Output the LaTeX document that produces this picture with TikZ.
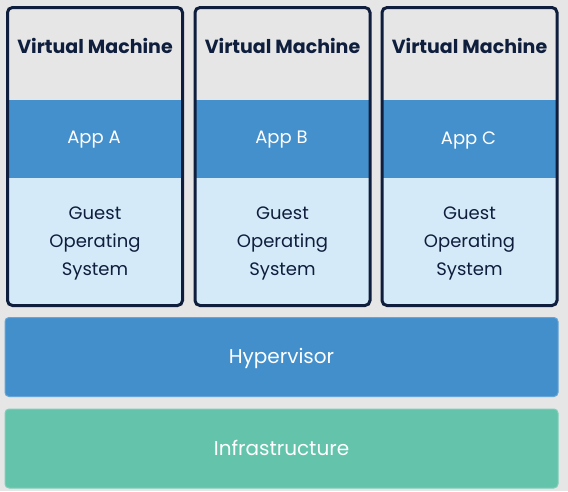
\documentclass[tikz,border=0pt]{standalone}
\usepackage{fontspec}
\setmainfont{Poppins}
\definecolor{bg}{HTML}{E6E6E6}
\definecolor{navy}{HTML}{0E1E3C}
\definecolor{appblue}{HTML}{4490CC}
\definecolor{osblue}{HTML}{D5EAF8}
\definecolor{hypblue}{HTML}{428FCC}
\definecolor{hypedge}{HTML}{65A5DA}
\definecolor{infra}{HTML}{64C3AB}
\definecolor{infraedge}{HTML}{80CFBB}
\tikzset{
  appband/.style={rectangle, fill=appblue, inner sep=0pt, minimum width=175pt, minimum height=78pt},
  osband/.style={rectangle, fill=osblue, inner sep=0pt, minimum width=175pt, minimum height=126pt},
  apptext/.style={text=white, inner sep=0pt, font=\fontsize{18}{20}\selectfont},
  ostext/.style={text=navy, inner sep=0pt, align=center, font=\fontsize{18}{28}\selectfont},
  vmbox/.style={rectangle, draw=navy, line width=3pt, rounded corners=5pt, inner sep=0pt, minimum width=175pt, minimum height=298pt},
  vmtitle/.style={text=navy, font=\fontsize{19}{22}\selectfont\bfseries, inner sep=0pt},
  layer/.style={rectangle, rounded corners=4pt, inner sep=0pt, minimum width=553pt, minimum height=79pt, line width=1pt},
  layertext/.style={text=white, inner sep=0pt, font=\fontsize{20}{22}\selectfont}
}
\begin{document}
\begin{tikzpicture}[x=1pt,y=-1pt]
\useasboundingbox[fill=bg] (0,0) rectangle (568,491);
% VM A
\node[appband] (appA) at (95,139) {};
\node[apptext] (appAt) at (94,140) {App A};
\node[osband] (osA) at (95,240.5) {};
\node[ostext] (osAt) at (95,243) {Guest\\Operating\\System};
\node[vmbox] (vmA) at (95,156.5) {};
\node[vmtitle] (titleA) at (95,46) {Virtual Machine};
% VM B
\node[appband] (appB) at (282.5,139) {};
\node[apptext] (appBt) at (281.5,140) {App B};
\node[osband] (osB) at (282.5,240.5) {};
\node[ostext] (osBt) at (282.5,243) {Guest\\Operating\\System};
\node[vmbox] (vmB) at (282.5,156.5) {};
\node[vmtitle] (titleB) at (282.5,46) {Virtual Machine};
% VM C
\node[appband] (appC) at (469.5,139) {};
\node[apptext] (appCt) at (468.5,140) {App C};
\node[osband] (osC) at (469.5,240.5) {};
\node[ostext] (osCt) at (469.5,243) {Guest\\Operating\\System};
\node[vmbox] (vmC) at (469.5,156.5) {};
\node[vmtitle] (titleC) at (469.5,46) {Virtual Machine};
% layers
\node[layer, fill=hypblue, draw=hypedge] (hyp) at (281.5,357) {};
\node[layertext] (hypt) at (281.5,358) {Hypervisor};
\node[layer, fill=infra, draw=infraedge] (inf) at (281.5,448.5) {};
\node[layertext] (inft) at (281.5,448) {Infrastructure};
\end{tikzpicture}
\end{document}
